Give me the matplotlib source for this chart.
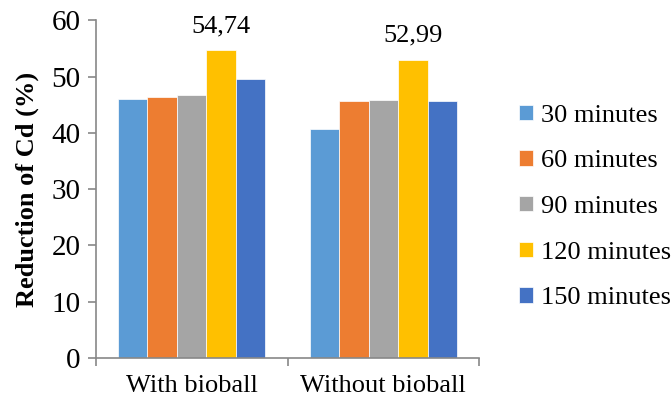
import matplotlib.pyplot as plt
import numpy as np

plt.rcParams['font.family'] = ['Liberation Serif', 'DejaVu Serif']

groups = ['With bioball', 'Without bioball']
series = ['30 minutes', '60 minutes', '90 minutes', '120 minutes', '150 minutes']
colors = ['#5b9bd5', '#ed7d31', '#a5a5a5', '#ffc000', '#4472c4']

with_bioball = [46.0, 46.3, 46.8, 54.74, 49.6]
without_bioball = [40.7, 45.7, 45.9, 52.99, 45.7]

values = np.array([with_bioball, without_bioball])

fig = plt.figure(figsize=(6.71, 4), dpi=100)
ax = fig.add_axes([0.143, 0.105, 0.571, 0.844])

x = np.arange(len(groups))
w = 0.154
for i, name in enumerate(series):
    pos = x + (i - 2) * w
    bars = ax.bar(pos, values[:, i], w, color=colors[i], label=name,
                  edgecolor='white', linewidth=0.5)
    if i == 3:
        for b, v in zip(bars, values[:, i]):
            ax.text(b.get_x() + b.get_width() / 2, v + 2.3,
                    f'{v:.2f}'.replace('.', ','), ha='center', va='bottom',
                    fontsize=19)

ax.set_xlim(-0.5, 1.5)
ax.set_ylim(0, 60)
ax.set_yticks(range(0, 61, 10))
ax.set_xticks(x)
ax.set_xticklabels(groups)
ax.set_xticks([-0.5, 0.5, 1.5], minor=True)
ax.tick_params(axis='x', which='major', length=0, labelsize=19, pad=12)
ax.tick_params(axis='x', which='minor', length=6, color='#888888', width=1.2)
ax.tick_params(axis='y', length=6, color='#888888', width=1.2, labelsize=21,
               pad=5)
ax.set_ylabel('Reduction of Cd (%)', fontsize=19, fontweight='bold', labelpad=9)

for s in ['top', 'right']:
    ax.spines[s].set_visible(False)
for s in ['left', 'bottom']:
    ax.spines[s].set_color('#888888')
    ax.spines[s].set_linewidth(1.2)

fig.legend(loc='center left', bbox_to_anchor=(0.774, 0.4825), frameon=False,
           fontsize=19, handlelength=0.53, handleheight=0.53, handletextpad=0.3,
           labelspacing=0.89, borderpad=0, borderaxespad=0)

plt.savefig('out.png', dpi=100)
